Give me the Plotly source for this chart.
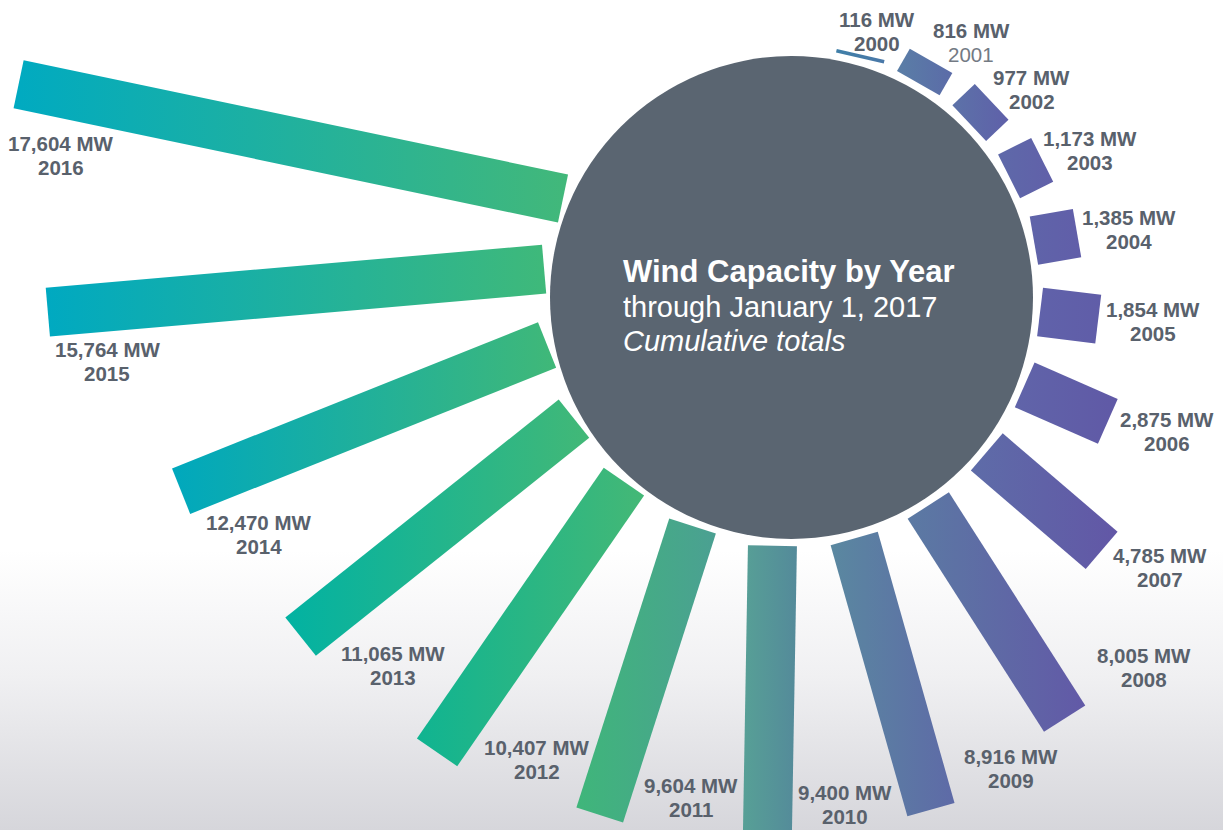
import numpy as np
import plotly.graph_objects as go

# ---------------- data ----------------
years = ["2000", "2001", "2002", "2003", "2004", "2005", "2006", "2007", "2008",
         "2009", "2010", "2011", "2012", "2013", "2014", "2015", "2016"]
capacity_mw = [116, 816, 977, 1173, 1385, 1854, 2875, 4785, 8005,
               8916, 9400, 9604, 10407, 11065, 12470, 15764, 17604]
title_lines = ["Wind Capacity by Year", "through January 1, 2017", "Cumulative totals"]

# ---------------- styles (kept apart from the data) ----------------
bar_colors_left_right = [
    ("#3f7fa8", "#4a78a8"), ("#5a7ea6", "#5b6ba8"), ("#5c72a8", "#5f60a9"),
    ("#5e69a9", "#6160a9"), ("#5f64a9", "#615ea9"), ("#6062aa", "#605da8"),
    ("#6064a9", "#6059a6"), ("#5e6ca8", "#6257a6"), ("#5b7aa3", "#6259a7"),
    ("#5a88a0", "#5e6aa7"), ("#57a096", "#548a9a"), ("#3fb67a", "#4ba092"),
    ("#10b491", "#44b876"), ("#02b2a2", "#42b877"), ("#00a8bd", "#40b878"),
    ("#00a9c1", "#3fb97a"), ("#00aac1", "#42b87a"),
]
light_year_labels = {"2001"}

W, H = 1223, 830
HUB_CX, HUB_CY, HUB_R = 791.5, 297.5, 241.5
HUB_COLOR = "#5a6571"
BAR_R0 = 249.0                 # bars start just outside the hub
FAN_CX, FAN_CY = 797.0, 265.0  # angular origin of the fan of bars
FAN_START, FAN_STEP = 16.9, 16.81   # degrees, clockwise from north
BAR_TILT = -4.0
PX_PER_MW = 0.0316
BAR_W = 49.0
LABEL_COLOR = "#59616c"
LABEL_SIZE = 20.5
LINE_GAP = 24.0
GLYPH_HH = 7.5
FONT = "Liberation Sans, Arial, sans-serif"
SIDE_LABEL_MIN = 6000


def unit(deg):
    r = np.radians(deg)
    return np.array([np.sin(r), -np.cos(r)])  # screen coords (y down)


def text_width(s, size):
    w = {",": 0.278, " ": 0.278, "M": 0.833, "W": 0.944}
    return size * sum(w.get(ch, 0.556) for ch in s)


def polys_overlap(P, Q):
    for poly in (P, Q):
        m = len(poly)
        for k in range(m):
            e = poly[(k + 1) % m] - poly[k]
            axis = np.array([-e[1], e[0]])
            pa = [axis @ p for p in P]
            qa = [axis @ q for q in Q]
            if max(pa) < min(qa) or max(qa) < min(pa):
                return False
    return True


def box(cx, cy, hw, hh):
    return [np.array([cx - hw, cy - hh]), np.array([cx + hw, cy - hh]),
            np.array([cx + hw, cy + hh]), np.array([cx - hw, cy + hh])]


fig = go.Figure()

# background: white fading to a light grey near the bottom
BG_TOP = 550
fig.add_trace(go.Scatter(
    x=[0, W, W, 0, 0], y=[BG_TOP, BG_TOP, H, H, BG_TOP], mode="lines",
    line=dict(width=0), fill="toself",
    fillgradient=dict(type="vertical", start=BG_TOP, stop=H,
                      colorscale=[[0, "#ffffff"], [0.45, "#f0f0f2"], [1, "#d6d6db"]]),
    hoverinfo="skip", showlegend=False))

fan = np.array([FAN_CX, FAN_CY])
hub = np.array([HUB_CX, HUB_CY])
D = fan - hub

bars = []
for i, (yr, val) in enumerate(zip(years, capacity_mw)):
    psi = FAN_START + i * FAN_STEP
    v = unit(psi)
    vd = v @ D
    t = -vd + np.sqrt(vd ** 2 - D @ D + BAR_R0 ** 2)
    p0 = fan + t * v
    phi = psi + BAR_TILT
    u = unit(phi)
    n = unit(phi - 90)
    p1 = p0 + val * PX_PER_MW * u
    hw = BAR_W / 2
    corners = [p0 + hw * n, p1 + hw * n, p1 - hw * n, p0 - hw * n]
    bars.append(dict(phi=phi, u=u, n=n, p1=p1, poly=corners))
    cl, cr = bar_colors_left_right[i]
    fig.add_trace(go.Scatter(
        x=[c[0] for c in corners + corners[:1]], y=[c[1] for c in corners + corners[:1]],
        mode="lines", line=dict(width=0), fill="toself",
        fillgradient=dict(type="horizontal", colorscale=[[0, cl], [1, cr]]),
        hoverinfo="skip", showlegend=False))


def label_boxes(cx, cy, vhw, yhw, gap):
    return [box(cx, cy - LINE_GAP / 2, vhw + gap, GLYPH_HH + gap),
            box(cx, cy + LINE_GAP / 2, yhw + gap, GLYPH_HH + gap)]


def clear_of_bar(cx, cy, vhw, yhw, gap, bar_poly):
    return not any(polys_overlap(lb, bar_poly)
                   for lb in label_boxes(cx, cy, vhw, yhw, gap))


labels = []
for i, (yr, val) in enumerate(zip(years, capacity_mw)):
    bb = bars[i]
    u, n, p1, phi = bb["u"], bb["n"], bb["p1"], bb["phi"]
    vlabel = f"{val:,} MW"
    vhw = text_width(vlabel, LABEL_SIZE) / 2
    yhw = text_width(yr, LABEL_SIZE) / 2
    lhh = LINE_GAP / 2 + GLYPH_HH

    def ext(vec):
        return abs(vec[0]) * vhw + abs(vec[1]) * lhh

    def clamp(c):
        return (float(np.clip(c[0], vhw + 4, W - vhw - 4)),
                float(np.clip(c[1], lhh + 6, H - lhh - 6)))

    if val < SIDE_LABEL_MIN:
        # beyond the end of the bar, leaning towards horizontal
        w = unit(90 + 0.4 * (phi - 90))
        gap = 5
        for d in np.arange(0, 200, 1.0):
            cx, cy = clamp(p1 + d * w)
            if clear_of_bar(cx, cy, vhw, yhw, gap, bb["poly"]):
                break
    else:
        # beside the outer end, on the counter-clockwise side of the bar
        f = float(np.clip((0.45 - u[0]) / 0.45, 0, 1))
        a = -(0.5 * ext(u) + 28) * f
        gap = 5 + 18 * (1 - f)
        for b in np.arange(0, 250, 1.0):
            cx, cy = clamp(p1 + a * u + b * n)
            if clear_of_bar(cx, cy, vhw, yhw, gap, bb["poly"]):
                break
    labels.append([cx, cy, vhw, vlabel, yr])

# keep neighbouring labels from overlapping (shift the earlier one left)
for i in range(len(labels) - 2, -1, -1):
    a_, b_ = labels[i], labels[i + 1]
    x_overlap = (a_[0] + a_[2]) - (b_[0] - b_[2])
    if abs(a_[1] - b_[1]) < 42 and x_overlap > -18 and a_[0] < b_[0]:
        a_[0] -= x_overlap + 18

annotations = []
for cx, cy, vhw, vlabel, yr in labels:
    annotations.append(dict(
        x=cx, y=cy - LINE_GAP / 2, xref="x", yref="y", text=f"<b>{vlabel}</b>",
        showarrow=False, xanchor="center", yanchor="middle",
        font=dict(family=FONT, size=LABEL_SIZE, color=LABEL_COLOR)))
    if yr in light_year_labels:
        ytxt, ycol = yr, "#737a84"
    else:
        ytxt, ycol = f"<b>{yr}</b>", LABEL_COLOR
    annotations.append(dict(
        x=cx, y=cy + LINE_GAP / 2, xref="x", yref="y", text=ytxt,
        showarrow=False, xanchor="center", yanchor="middle",
        font=dict(family=FONT, size=LABEL_SIZE, color=ycol)))

# centre text
TEXT_X = 621
annotations += [
    dict(x=TEXT_X, y=271, xref="x", yref="y", text=f"<b>{title_lines[0]}</b>",
         showarrow=False, xanchor="left", yanchor="middle",
         font=dict(family=FONT, size=31, color="white")),
    dict(x=TEXT_X, y=307, xref="x", yref="y", text=title_lines[1],
         showarrow=False, xanchor="left", yanchor="middle",
         font=dict(family=FONT, size=29, color="white")),
    dict(x=TEXT_X, y=341, xref="x", yref="y", text=f"<i>{title_lines[2]}</i>",
         showarrow=False, xanchor="left", yanchor="middle",
         font=dict(family=FONT, size=29, color="white")),
]

fig.update_layout(
    width=W, height=H, margin=dict(l=0, r=0, t=0, b=0, pad=0),
    paper_bgcolor="white", plot_bgcolor="white", showlegend=False,
    hovermode=False,
    xaxis=dict(range=[0, W], visible=False, fixedrange=True),
    yaxis=dict(range=[H, 0], visible=False, fixedrange=True),
    shapes=[dict(type="circle", xref="x", yref="y",
                 x0=HUB_CX - HUB_R, x1=HUB_CX + HUB_R,
                 y0=HUB_CY - HUB_R, y1=HUB_CY + HUB_R,
                 fillcolor=HUB_COLOR, line=dict(width=0), layer="above")],
    annotations=annotations,
)

fig.write_html("out.html", config={"displayModeBar": False},
               post_script="document.body.style.margin='0';document.body.style.overflow='hidden';")
